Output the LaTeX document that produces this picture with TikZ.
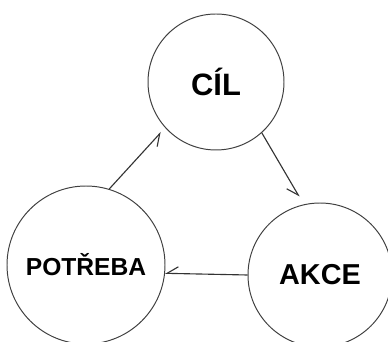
\documentclass[tikz,border=0pt]{standalone}
\usepackage{fontspec}
\setmainfont{Liberation Sans}
\usetikzlibrary{arrows.meta}
\begin{document}
\begin{tikzpicture}

        % Styles
        \tikzstyle{stage}=[circle,draw=black!75,line width=0.7pt,inner sep=0pt,font=\bfseries]
        \tikzstyle{flow}=[draw=black!80,line width=0.8pt,-{Straight Barb[harpoon,swap,length=0.28cm,width=0.34cm]}]
        %The graphic
        \useasboundingbox (0,0) rectangle (9.7,8.55);
        \node[stage,minimum size=3.4cm,font=\bfseries\fontsize{22}{26}\selectfont] (cil) at (5.4,6.5) {CÍL};
        \node[stage,minimum size=3.95cm,font=\bfseries\fontsize{17.5}{21}\selectfont] (potreba) at (2.15,1.925) {POTŘEBA};
        \node[stage,minimum size=3.6cm,font=\bfseries\fontsize{20.5}{24}\selectfont] (akce) at (8.0,1.675) {AKCE};
        %cycle
        \draw[flow,shorten >=0.15cm] (potreba.73) -- (cil.222);
        \draw[flow,shorten >=0.22cm] (cil.312) -- (akce.103);
        \draw[flow] (akce.west) -- (potreba.354);
\end{tikzpicture}
\end{document}
